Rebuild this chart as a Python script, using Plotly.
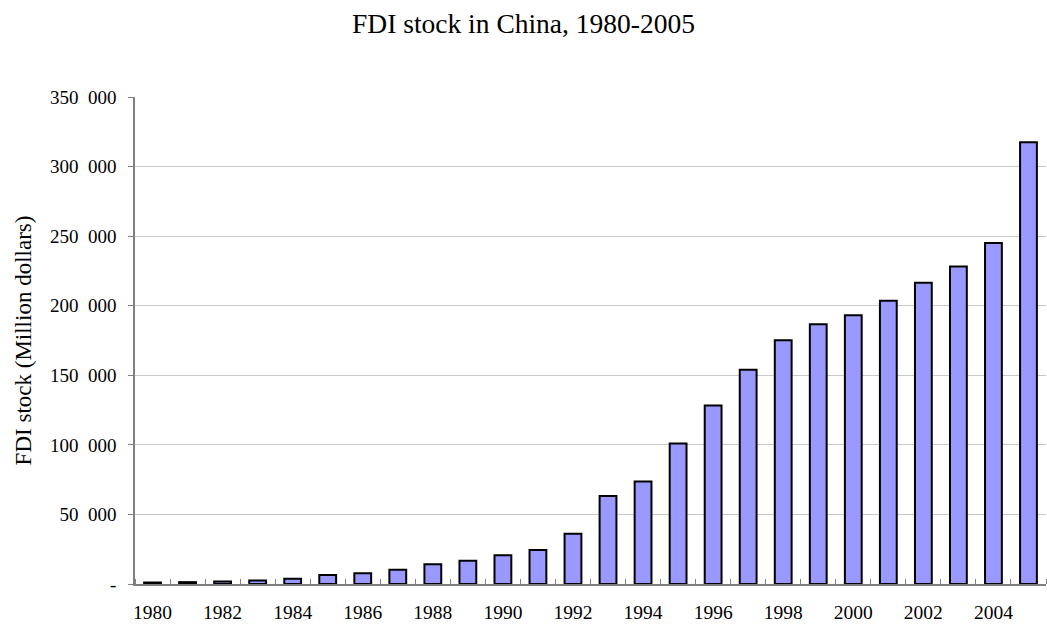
import plotly.graph_objects as go

years = list(range(1980, 2006))
fdi_stock = [1074, 1339, 1769, 2500, 3800, 6470, 7700, 10300, 14150, 16770,
             20640, 24450, 36200, 63300, 73600, 100900, 128300, 153900, 175200, 186700,
             193200, 203500, 216500, 228200, 245000, 317500]

y_tickvals = [0, 50000, 100000, 150000, 200000, 250000, 300000, 350000]
y_ticktext = ["-", "50\u2007000", "100\u2007000", "150\u2007000", "200\u2007000",
              "250\u2007000", "300\u2007000", "350\u2007000"]
x_tickvals = list(range(1980, 2006, 2))
x_ticktext = [str(v) for v in x_tickvals]

title_text = "FDI stock in China, 1980-2005"
y_title = "FDI stock (Million dollars)"

FONT = "Liberation Serif, Times New Roman, serif"

fig = go.Figure()
fig.add_trace(go.Bar(
    x=years, y=fdi_stock, width=0.48,
    marker=dict(color="#9999FF", line=dict(color="black", width=2)),
))

fig.update_layout(
    width=1047, height=624,
    margin=dict(l=135, r=1, t=97, b=40),
    paper_bgcolor="white", plot_bgcolor="white",
    showlegend=False,
    font=dict(family=FONT, color="black", size=19),
    title=dict(text=title_text, x=0.5, xanchor="center", xref="container",
               y=1 - 23 / 624, yanchor="middle", yref="container",
               font=dict(family=FONT, size=27.5, color="black")),
)
fig.update_xaxes(
    range=[1979.5, 2005.5], tickmode="array", tickvals=x_tickvals, ticktext=x_ticktext,
    ticks="", showgrid=False, zeroline=False,
    showline=True, linecolor="#808080", linewidth=1.5,
    tickfont=dict(family=FONT, size=19.5, color="black"),
    ticklabelstandoff=10,
    minor=dict(ticks="inside", tick0=1979.5, dtick=1, ticklen=5, tickcolor="#808080", tickwidth=1, showgrid=False),
)
fig.update_yaxes(
    range=[0, 350000], tickmode="array", tickvals=y_tickvals, ticktext=y_ticktext,
    ticks="outside", ticklen=5, tickcolor="#808080", tickwidth=1,
    showgrid=True, gridcolor="#c8c8c8", gridwidth=1, zeroline=False,
    showline=True, linecolor="#808080", linewidth=1.5,
    tickfont=dict(family=FONT, size=19, color="black"),
    ticklabelstandoff=8,
    title=dict(text=y_title, font=dict(family=FONT, size=23, color="black"), standoff=12),
)

fig.write_html("out.html", config={"displayModeBar": False},
               post_script="document.body.style.margin='0';")
